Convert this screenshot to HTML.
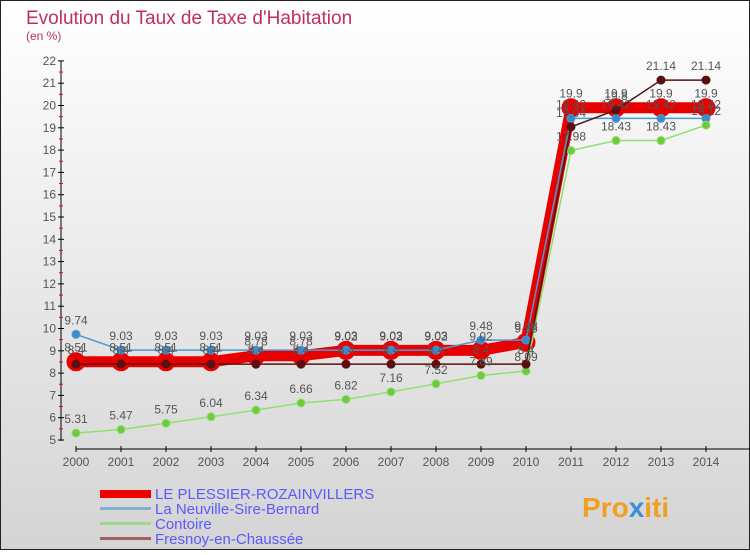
<!DOCTYPE html>
<html><head><meta charset="utf-8"><style>
html,body{margin:0;padding:0}
body{width:750px;height:550px;overflow:hidden;font-family:"Liberation Sans",sans-serif}
</style></head><body>
<svg width="750" height="550" xmlns="http://www.w3.org/2000/svg" font-family="Liberation Sans, sans-serif">
<defs><linearGradient id="bg" x1="0" y1="0" x2="0" y2="1"><stop offset="0" stop-color="#ffffff"/><stop offset="1" stop-color="#d4d4d4"/></linearGradient></defs>
<rect x="0.5" y="0.5" width="749" height="549" fill="url(#bg)" stroke="#222"/>
<text x="26" y="24" font-size="19" fill="#c0305a">Evolution du Taux de Taxe d'Habitation</text>
<text x="26" y="40" font-size="12" fill="#c0305a">(en %)</text>
<g id="axes"></g>
<g id="series"></g>
<g id="labels" font-size="12" fill="#555"></g>
<g>
<rect x="100" y="490" width="51" height="8" fill="#e00"/>
<text x="155" y="499" font-size="15" fill="#5a5aff">LE PLESSIER-ROZAINVILLERS</text>
<rect x="100" y="507" width="51" height="3" fill="#7fb0d0"/>
<text x="155" y="514" font-size="15" fill="#5a5aff">La Neuville-Sire-Bernard</text>
<rect x="100" y="522" width="51" height="3" fill="#9ed88a"/>
<text x="155" y="529" font-size="15" fill="#5a5aff">Contoire</text>
<rect x="100" y="537" width="51" height="3" fill="#a06060"/>
<text x="155" y="544" font-size="15" fill="#5a5aff">Fresnoy-en-Chaussée</text>
</g>
<text x="582" y="517" font-size="28" font-weight="bold" fill="#f0a020">Pro<tspan fill="#3a8fd8">x</tspan>iti</text>
</svg>
<script>
const years=[2000,2001,2002,2003,2004,2005,2006,2007,2008,2009,2010,2011,2012,2013,2014];
const yTicks=[5,6,7,8,9,10,11,12,13,14,15,16,17,18,19,20,21,22];
const plessier=[8.51,8.51,8.51,8.51,8.78,8.78,9.02,9.02,9.02,9.02,9.38,19.9,19.9,19.9,19.9];
const neuville=[9.74,9.03,9.03,9.03,9.03,9.03,9.03,9.03,9.03,9.48,9.48,19.42,19.42,19.42,19.42];
const contoire=[5.31,5.47,5.75,6.04,6.34,6.66,6.82,7.16,7.52,7.89,8.09,17.98,18.43,18.43,19.12];
const fresnoy=[8.4,8.4,8.4,8.4,8.4,8.4,8.4,8.4,8.4,8.4,8.4,19.04,19.8,21.14,21.14];
const NS='http://www.w3.org/2000/svg';
const X=i=>76+i*45, Y=v=>440-(v-5)*22.3;
function mk(t,a,p){const e=document.createElementNS(NS,t);for(const k in a)e.setAttribute(k,a[k]);p.appendChild(e);return e;}
const ax=document.getElementById('axes');
let l=mk('line',{x1:61,y1:61,x2:61,y2:441,stroke:'#000'},ax);


yTicks.forEach(v=>{
  mk('line',{x1:58,x2:64,y1:Y(v),y2:Y(v),stroke:'#000'},ax);
  if(v<22)mk('line',{x1:59,x2:63,y1:Y(v+0.5),y2:Y(v+0.5),stroke:'#e00'},ax);
  const t=mk('text',{x:56,y:Y(v)+4,'text-anchor':'end','font-size':12,fill:'#555'},ax);t.textContent=v;
  
  
});
l=mk('line',{x1:76,y1:449,x2:750,y2:449,stroke:'#000'},ax);


years.forEach((y,i)=>{
  mk('line',{x1:X(i),x2:X(i),y1:446,y2:452,stroke:'#000'},ax);
  const t=mk('text',{x:X(i),y:466,'text-anchor':'middle','font-size':12,fill:'#555'},ax);t.textContent=y;
  
  
});
const sg=document.getElementById('series'),lg=document.getElementById('labels');
function series(d,name,color,w,r,dot,dy){
  const g=mk('g',{},sg);
  
  
  mk('polyline',{points:d.map((v,i)=>X(i)+','+Y(v)).join(' '),fill:'none',stroke:color,'stroke-width':w},g);
  d.forEach((v,i)=>{
    const c=mk('circle',{cx:X(i),cy:Y(v),r:r,fill:dot,stroke:color},g);
    
    
    const t=mk('text',{x:X(i),y:Y(v)+dy,'text-anchor':'middle'},lg);t.textContent=v;
    
    
  });
}
series(plessier,'plessier-series','#e80000',11,9,'#e80000',-10);
series(neuville,'neuville-series','#4a9ad0',1.5,4,'#3a8ad0',-10);
series(contoire,'contoire-series','#90e070',1.5,4,'#70c840',-10);
series(fresnoy,'fresnoy-series','#5a1010',1.5,4,'#5a1010',-10);
</script>
</body></html>
